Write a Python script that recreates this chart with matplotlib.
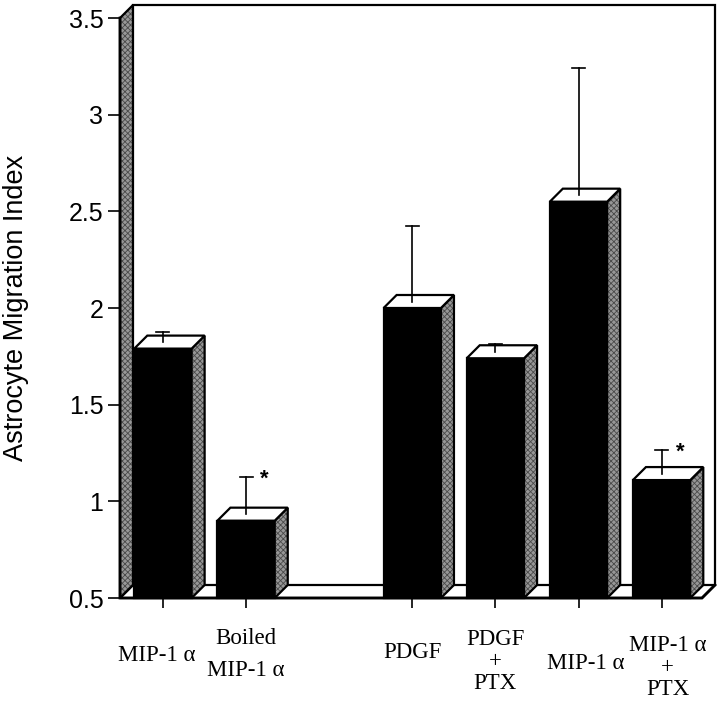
import matplotlib
matplotlib.use("Agg")
import matplotlib.pyplot as plt
from matplotlib.patches import Polygon

# data
labels = [["MIP-1 α"], ["Boiled", "MIP-1 α"], ["PDGF"], ["PDGF", "+", "PTX"],
          ["MIP-1 α"], ["MIP-1 α", "+", "PTX"]]
positions = [0, 1, 3, 4, 5, 6]
means = [1.79, 0.90, 2.00, 1.74, 2.55, 1.11]
errors = [0.05, 0.19, 0.39, 0.04, 0.66, 0.12]
significant = [False, True, False, False, False, True]
yticks = [0.5, 1, 1.5, 2, 2.5, 3, 3.5]
ytick_labels = ["0.5", "1", "1.5", "2", "2.5", "3", "3.5"]

# layout (pixels of a 720x701 canvas)
W, H = 720, 701
ax_left, ax_right, ax_top, ax_bot = 120, 702, 18, 598
xmin, xmax = -0.517, 6.486
ymin, ymax = 0.5, 3.5
px_x = (ax_right - ax_left) / (xmax - xmin)
px_y = (ax_bot - ax_top) / (ymax - ymin)
dx = 13 / px_x  # depth offset
dy = 13 / px_y
bw = 0.69
lw = 1.6
side_col = "#979797"
hatch_col = "#4a4a4a"

label_baselines = [[661], [644, 676], [658], [645, 667, 689], [669], [651, 673, 695]]
label_dx = [-6, 0, 0, 0, 7, 6]

plt.rcParams["hatch.linewidth"] = 0.6

fig = plt.figure(figsize=(W / 100, H / 100), dpi=100)
ax = fig.add_axes([ax_left / W, (H - ax_bot) / H, (ax_right - ax_left) / W,
                   (ax_bot - ax_top) / H])
ax.set_xlim(xmin, xmax)
ax.set_ylim(ymin, ymax)
for s in ax.spines.values():
    s.set_visible(False)
ax.patch.set_visible(False)


def face(pts, fc, hatch=None, z=2):
    if hatch:
        ax.add_patch(Polygon(pts, closed=True, facecolor=fc, edgecolor=hatch_col,
                             hatch=hatch, lw=0, zorder=z, clip_on=False))
        ax.add_patch(Polygon(pts, closed=True, fill=False, edgecolor="black",
                             lw=lw, zorder=z, clip_on=False, joinstyle="miter"))
    else:
        ax.add_patch(Polygon(pts, closed=True, facecolor=fc, edgecolor="black",
                             lw=lw, zorder=z, clip_on=False, joinstyle="miter"))


# floor and walls
face([(xmin, ymin), (xmax, ymin), (xmax + dx, ymin + dy), (xmin + dx, ymin + dy)], "white", z=1)
face([(xmin, ymin), (xmin, ymax), (xmin + dx, ymax + dy), (xmin + dx, ymin + dy)],
     side_col, hatch="xxxxxx", z=1)
ax.plot([xmin + dx, xmax + dx, xmax + dx], [ymax + dy, ymax + dy, ymin + dy],
        color="black", lw=lw, zorder=1, clip_on=False, solid_joinstyle="miter")

# bars
for x, m, e, sig in zip(positions, means, errors, significant):
    l, r = x - bw / 2, x + bw / 2
    face([(l, ymin), (r, ymin), (r, m), (l, m)], "black", z=3)
    face([(r, ymin), (r + dx, ymin + dy), (r + dx, m + dy), (r, m)], side_col,
         hatch="xxxxxx", z=3)
    face([(l, m), (r, m), (r + dx, m + dy), (l + dx, m + dy)], "white", z=3)
    y0 = m + dy / 2
    ax.plot([x, x], [y0, y0 + e], color="black", lw=1.2, zorder=4, clip_on=False)
    ax.plot([x - 0.078, x + 0.078], [y0 + e, y0 + e], color="black", lw=1.2,
            zorder=4, clip_on=False)
    if sig:
        ax.text(x + 0.22, y0 + e - 0.01, "*", fontsize=16, fontweight="bold",
                ha="center", va="center", family="Liberation Sans", zorder=5)

# front edges of wall and floor
ax.plot([xmin, xmin, xmax, xmax + dx], [ymax, ymin, ymin, ymin + dy], color="black",
        lw=2.0, zorder=6, clip_on=False, solid_joinstyle="miter")

ax.set_yticks(yticks)
ax.set_yticklabels(ytick_labels, family="Liberation Sans", fontsize=18)
ax.tick_params(axis="y", length=9, width=1.2, pad=3, direction="out")
ax.set_xticks(positions)
ax.set_xticklabels([])
ax.tick_params(axis="x", length=7, width=1.2, direction="out")

ax.set_ylabel("Astrocyte Migration Index", family="Liberation Sans", fontsize=19.5)
ax.yaxis.set_label_coords(-(ax_left - 29) / (ax_right - ax_left), 0.5)

for x, lines, bases, off in zip(positions, labels, label_baselines, label_dx):
    xf = (ax_left + (x - xmin) * px_x + off) / W
    for line, b in zip(lines, bases):
        fig.text(xf, (H - b) / H, line, family="Liberation Serif", fontsize=16.5,
                 ha="center", va="baseline")

fig.savefig("out.png", dpi=100)
